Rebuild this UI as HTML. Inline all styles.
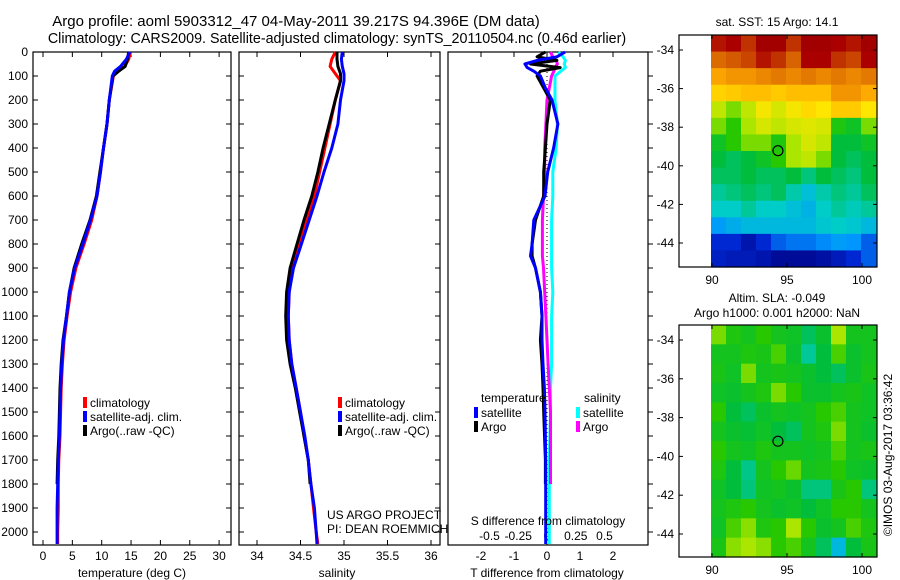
<!DOCTYPE html>
<html><head><meta charset="utf-8"><style>
html,body{margin:0;padding:0;background:#fff;}
svg{display:block;font-family:"Liberation Sans",sans-serif;}
</style></head><body>
<svg id="fig" width="900" height="580" viewBox="0 0 900 580">
<text x="296" y="26" font-size="15" text-anchor="middle">Argo profile: aoml 5903312_47 04-May-2011 39.217S 94.396E (DM data)</text>
<text x="337" y="43" font-size="14.3" text-anchor="middle">Climatology: CARS2009. Satellite-adjusted climatology: synTS_20110504.nc (0.46d earlier)</text>
</svg>
<script>
// ---------- data ----------
const depthTicks=[0,100,200,300,400,500,600,700,800,900,1000,1100,1200,1300,1400,1500,1600,1700,1800,1900,2000];
const tempTicks=[0,5,10,15,20,25,30];
const salTicks=[34,34.5,35,35.5,36];
const tdiffTicks=[-2,-1,0,1,2];
const sdiffTicks=[-0.5,-0.25,0,0.25,0.5];
const latTicks=[-34,-36,-38,-40,-42,-44];
const lonTicks=[90,95,100];

const tDepth=[0,30,60,80,100,200,300,400,500,600,700,800,900,1000,1100,1200,1300,1400,1500,1600,1700,1800,1900,2000,2050];
const tClim=[14.9,14.6,13.9,12.8,12.0,11.3,10.9,10.3,9.8,9.2,8.3,7.0,5.6,4.7,4.1,3.6,3.3,3.1,3.0,2.9,2.7,2.6,2.6,2.5,2.5];
const tSat=[14.8,14.2,13.2,12.2,11.8,11.3,10.9,10.3,9.8,9.2,8.1,6.8,5.4,4.5,4.0,3.5,3.2,3.0,2.9,2.8,2.6,2.5,2.4,2.4,2.4];
const tArgo=[14.6,14.4,14.0,12.9,11.9,11.3,10.9,10.3,9.7,9.1,8.0,6.6,5.3,4.5,4.0,3.4,3.1,2.9,2.8,2.7,2.5,2.4,null,null,null];

const sDepth=[0,30,60,90,120,200,300,400,500,600,700,800,900,1000,1100,1200,1300,1400,1500,1600,1700,1800,1900,2000,2050];
const sClim=[34.90,34.86,34.84,34.90,34.96,34.90,34.84,34.78,34.72,34.66,34.57,34.49,34.41,34.37,34.36,34.37,34.40,34.45,34.50,34.54,34.59,34.62,34.65,34.68,34.70];
const sSat=[34.98,34.97,34.98,35.00,35.00,34.96,34.93,34.86,34.77,34.69,34.60,34.51,34.42,34.37,34.36,34.37,34.40,34.45,34.50,34.55,34.59,34.62,34.66,34.68,34.69];
const sArgo=[34.92,34.92,34.93,34.96,34.96,34.90,34.83,34.76,34.70,34.63,34.54,34.46,34.38,34.34,34.33,34.34,34.38,34.44,34.49,34.54,34.59,34.61,null,null,null];

const dDepth=[0,20,35,50,65,80,100,150,200,300,400,500,600,700,800,850,900,1000,1100,1200,1300,1400,1500,1700,1800,2000,2050];
const dTSat=[0.55,0.3,-0.3,-0.67,-0.6,-0.4,-0.2,-0.05,0.15,0.33,0.2,0.02,-0.06,-0.4,-0.45,-0.5,-0.35,-0.2,-0.15,-0.15,-0.12,-0.08,-0.06,-0.04,-0.04,-0.04,-0.04];
const dTArgo=[-0.05,-0.3,0.3,-0.5,0.4,-0.2,-0.3,-0.1,0.1,0.0,-0.05,-0.1,-0.1,-0.35,-0.45,-0.45,-0.35,-0.2,-0.15,-0.2,-0.15,-0.12,-0.1,-0.05,-0.05,null,null];
const dSSat=[0.10,0.14,0.16,0.15,0.16,0.12,0.07,0.07,0.07,0.09,0.08,0.05,0.05,0.04,0.04,0.04,0.04,0.05,0.04,0.04,0.04,0.03,0.03,0.02,0.02,0.02,0.02];
const dSArgo=[0.03,0.05,0.08,0.09,0.07,0.06,0.04,0.02,0.0,-0.01,-0.02,-0.02,-0.03,-0.04,-0.04,-0.04,-0.03,-0.02,-0.01,0.0,0.01,0.02,0.03,0.03,0.03,null,null];

const sstGrid=[
[0.93,0.95,0.90,0.97,0.97,0.90,0.97,0.97,0.95,0.93,0.97],
[0.84,0.86,0.88,0.93,0.90,0.85,0.95,0.95,0.90,0.88,0.95],
[0.76,0.78,0.78,0.80,0.82,0.80,0.82,0.80,0.82,0.80,0.82],
[0.69,0.70,0.72,0.72,0.70,0.72,0.72,0.72,0.78,0.78,0.75],
[0.60,0.55,0.60,0.65,0.62,0.65,0.68,0.66,0.70,0.70,0.66],
[0.55,0.50,0.58,0.62,0.60,0.62,0.63,0.62,0.48,0.45,0.55],
[0.45,0.50,0.55,0.55,0.48,0.58,0.62,0.60,0.42,0.42,0.45],
[0.42,0.40,0.42,0.45,0.50,0.58,0.60,0.55,0.42,0.40,0.42],
[0.40,0.40,0.42,0.40,0.40,0.42,0.38,0.42,0.40,0.38,0.42],
[0.36,0.38,0.40,0.38,0.40,0.35,0.31,0.35,0.38,0.36,0.40],
[0.33,0.33,0.36,0.33,0.33,0.31,0.29,0.33,0.36,0.34,0.36],
[0.26,0.28,0.30,0.30,0.30,0.30,0.30,0.32,0.33,0.32,0.30],
[0.15,0.15,0.08,0.15,0.20,0.22,0.22,0.24,0.26,0.25,0.20],
[0.12,0.10,0.10,0.08,0.04,0.04,0.04,0.06,0.10,0.15,0.20]];
const slaGrid=[
[0.55,0.48,0.46,0.50,0.46,0.45,0.40,0.44,0.58,0.46,0.46],
[0.46,0.46,0.48,0.47,0.52,0.44,0.36,0.42,0.52,0.44,0.46],
[0.47,0.45,0.55,0.46,0.47,0.46,0.44,0.42,0.40,0.44,0.47],
[0.45,0.44,0.46,0.48,0.55,0.50,0.44,0.44,0.46,0.47,0.45],
[0.50,0.42,0.40,0.44,0.46,0.45,0.46,0.50,0.52,0.46,0.45],
[0.46,0.44,0.43,0.45,0.42,0.40,0.46,0.48,0.55,0.46,0.44],
[0.50,0.46,0.45,0.48,0.46,0.46,0.45,0.46,0.52,0.46,0.47],
[0.48,0.42,0.37,0.46,0.50,0.54,0.46,0.47,0.50,0.45,0.44],
[0.45,0.42,0.38,0.45,0.46,0.44,0.38,0.38,0.47,0.50,0.38],
[0.46,0.48,0.50,0.46,0.44,0.45,0.42,0.45,0.50,0.50,0.46],
[0.45,0.52,0.56,0.48,0.50,0.58,0.50,0.44,0.46,0.52,0.48],
[0.47,0.56,0.58,0.56,0.50,0.52,0.46,0.40,0.30,0.42,0.47]];
const argoLon=94.396, argoLat=-39.217;

// ---------- helpers ----------
const NS="http://www.w3.org/2000/svg";
const svg=document.getElementById('fig');
function mk(tag,attrs,parent){const e=document.createElementNS(NS,tag);for(const k in attrs)e.setAttribute(k,attrs[k]);(parent||svg).appendChild(e);return e;}
const yD=d=>52+d*0.24;
const P1={x0:33,x1:231},P2={x0:239,x1:440},P3={x0:448,x1:648};
const xT=t=>43+t*5.87;
const xS=s=>257+(s-34)*87;
const xTd=t=>547+t*33;
const xSd=s=>547+s*115;

function frame(p,name){
  const r=mk('rect',{x:p.x0,y:52,width:p.x1-p.x0,height:493,fill:'none',stroke:'#000','stroke-width':1.2});
  
  
}
function yTicksPanel(p,labels){
  depthTicks.forEach(d=>{
    const y=yD(d);
    mk('line',{x1:p.x0,x2:p.x0+5,y1:y,y2:y,stroke:'#000'});
    mk('line',{x1:p.x1,x2:p.x1-5,y1:y,y2:y,stroke:'#000'});
    if(labels){const t=mk('text',{x:28,y:y+4,'font-size':12,'text-anchor':'end'});t.textContent=d;
      
      }
  });
}
function xTicks(ticks,fx,y,lab,name){
  ticks.forEach(v=>{
    const x=fx(v);
    mk('line',{x1:x,x2:x,y1:545,y2:540,stroke:'#000'});
    mk('line',{x1:x,x2:x,y1:52,y2:57,stroke:'#000'});
    if(lab){const t=mk('text',{x:x,y:y,'font-size':12,'text-anchor':'middle'});t.textContent=v;
      
      }
  });
}
function line(xs,ds,fx,color,name,w){
  let pts=[];
  for(let i=0;i<ds.length;i++){if(xs[i]===null||xs[i]===undefined)continue;pts.push(fx(xs[i]).toFixed(1)+','+yD(ds[i]).toFixed(1));}
  const pl=mk('polyline',{points:pts.join(' '),fill:'none',stroke:color,'stroke-width':w||3,'stroke-linejoin':'round'});
  
  
}
function txt(x,y,s,size,name,anchor){const t=mk('text',{x:x,y:y,'font-size':size,'text-anchor':anchor||'start'});t.textContent=s;
  
  return t;}
function legendBar(x,y,color,name){const r=mk('rect',{x:x,y:y,width:4,height:11,fill:color});
  
  }

// ---------- panel 1 ----------
frame(P1,'temperature-panel');
yTicksPanel(P1,true);
xTicks(tempTicks,xT,560,true,'temperature-tick-label');
line(tClim,tDepth,xT,'#f00','temp-climatology-line');
line(tArgo,tDepth,xT,'#000','temp-argo-line');
line(tSat,tDepth,xT,'#00f','temp-satellite-line');
txt(132,577,'temperature (deg C)',12,'x-axis-title-temperature','middle');
legendBar(83,397,'#f00','legend-climatology-swatch');txt(90,407,'climatology',12,'legend-climatology');
legendBar(83,411,'#00f','legend-satellite-swatch');txt(90,421,'satellite-adj. clim.',12,'legend-satellite');
legendBar(83,425,'#000','legend-argo-swatch');txt(90,435,'Argo(..raw -QC)',12,'legend-argo');

// ---------- panel 2 ----------
frame(P2,'salinity-panel');
yTicksPanel(P2,false);
xTicks(salTicks,xS,560,true,'salinity-tick-label');
line(sClim,sDepth,xS,'#f00','sal-climatology-line');
line(sArgo,sDepth,xS,'#000','sal-argo-line');
line(sSat,sDepth,xS,'#00f','sal-satellite-line');
txt(337,577,'salinity',12,'x-axis-title-salinity','middle');
legendBar(338,397,'#f00','legend2-climatology-swatch');txt(345,407,'climatology',12,'legend2-climatology');
legendBar(338,411,'#00f','legend2-satellite-swatch');txt(345,421,'satellite-adj. clim.',12,'legend2-satellite');
legendBar(338,425,'#000','legend2-argo-swatch');txt(345,435,'Argo(..raw -QC)',12,'legend2-argo');
txt(327,519,'US ARGO PROJECT',12,'project-label');
txt(327,533,'PI: DEAN ROEMMICH',12,'pi-label');

// ---------- panel 3 ----------
const fr3=mk('rect',{x:P3.x0,y:52,width:P3.x1-P3.x0,height:493,fill:'none',stroke:'#000','stroke-width':1.2});


depthTicks.forEach(d=>{const y=yD(d);mk('line',{x1:P3.x1,x2:P3.x1+5,y1:y,y2:y,stroke:'#000'});});
tdiffTicks.forEach(v=>{const x=xTd(v);mk('line',{x1:x,x2:x,y1:52,y2:57,stroke:'#000'});
  const t=txt(x,560,String(v),12,'tdiff-tick-label','middle');});
sdiffTicks.forEach(v=>{const x=xSd(v);txt(x,540,String(v),12,'sdiff-tick-label','middle');});
const zl=mk('line',{x1:xTd(0),x2:xTd(0),y1:52,y2:545,stroke:'#000','stroke-dasharray':'1,3'});


line(dSSat,dDepth,xSd,'#0ff','sdiff-satellite-line');
line(dSArgo,dDepth,xSd,'#f0f','sdiff-argo-line');
line(dTArgo,dDepth,xTd,'#000','tdiff-argo-line');
line(dTSat,dDepth,xTd,'#00f','tdiff-satellite-line');
txt(548,525,'S difference from climatology',12,'sdiff-axis-title','middle');
txt(547,577,'T difference from climatology',12,'tdiff-axis-title','middle');
txt(481,402,'temperature',12,'legend3-temperature-header');
txt(584,402,'salinity',12,'legend3-salinity-header');
legendBar(474,407,'#00f','legend3-tsat-swatch');txt(481,417,'satellite',12,'legend3-tsat');
legendBar(474,421,'#000','legend3-targo-swatch');txt(481,431,'Argo',12,'legend3-targo');
legendBar(576,407,'#0ff','legend3-ssat-swatch');txt(583,417,'satellite',12,'legend3-ssat');
legendBar(576,421,'#f0f','legend3-sargo-swatch');txt(583,431,'Argo',12,'legend3-sargo');

// ---------- maps ----------
const stops=[[0,0,0,130],[0.15,0,40,210],[0.25,0,150,255],[0.33,0,205,200],[0.42,0,190,60],[0.5,40,200,0],[0.58,170,230,0],[0.66,255,230,0],[0.75,255,170,0],[0.85,215,100,0],[0.95,170,0,0],[1,150,0,0]];
function cmap(v){for(let i=1;i<stops.length;i++){if(v<=stops[i][0]){const a=stops[i-1],b=stops[i],f=(v-a[0])/(b[0]-a[0]);
  return 'rgb('+[1,2,3].map(k=>Math.round(a[k]+f*(b[k]-a[k]))).join(',')+')';}}return 'rgb(150,0,0)';}
function map(M,grid,name){
  const fx=lon=>712+(lon-90)*15, fy=lat=>M.lat34+(-34-lat)*M.dlat;
  const dx0=711,dx1=876,rows=grid.length,cols=grid[0].length;
  const cw=(dx1-dx0)/cols,ch=(M.y1-M.y0)/rows;
  grid.forEach((row,r)=>row.forEach((v,c)=>{
    const cell=mk('rect',{x:dx0+c*cw,y:M.y0+r*ch,width:cw+0.6,height:ch+0.6,fill:cmap(v)});
    
    
  }));
  const f=mk('rect',{x:679,y:M.y0,width:198,height:M.y1-M.y0,fill:'none',stroke:'#000','stroke-width':1.2});
  
  
  latTicks.forEach(l=>{const y=fy(l);mk('line',{x1:679,x2:683,y1:y,y2:y,stroke:'#000'});mk('line',{x1:877,x2:873,y1:y,y2:y,stroke:'#000'});
    txt(674,y+4,String(l),12,name+'-lat-label','end');});
  lonTicks.forEach(l=>{const x=fx(l);mk('line',{x1:x,x2:x,y1:M.y1,y2:M.y1-4,stroke:'#000'});mk('line',{x1:x,x2:x,y1:M.y0,y2:M.y0+4,stroke:'#000'});
    txt(x,M.y1+17,String(l),12,name+'-lon-label','middle');});
  const c=mk('circle',{cx:fx(argoLon),cy:fy(argoLat),r:5,fill:'none',stroke:'#000','stroke-width':1.2});
  
  
}
map({y0:35,y1:267,lat34:50,dlat:19.3},sstGrid,'sst-map');
txt(777,26,'sat. SST: 15 Argo: 14.1',12,'sst-map-title','middle');
map({y0:325,y1:557,lat34:340,dlat:19.4},slaGrid,'sla-map');
txt(777,302,'Altim. SLA: -0.049',12,'sla-map-title','middle');
txt(777,317,'Argo h1000: 0.001 h2000: NaN',12,'sla-map-subtitle','middle');
const cr=txt(0,0,'©IMOS 03-Aug-2017 03:36:42',12,'copyright-timestamp','middle');
cr.setAttribute('transform','translate(892,455) rotate(-90)');
</script>
</body></html>
